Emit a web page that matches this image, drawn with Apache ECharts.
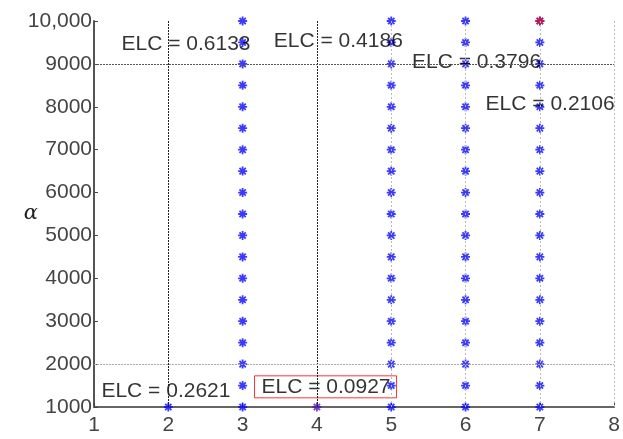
<!DOCTYPE html>
<html><head><meta charset="utf-8">
<script src="https://cdn.jsdelivr.net/npm/echarts@6/dist/echarts.min.js"></script>
<style>html,body{margin:0;padding:0;background:#fff}#c{width:623px;height:439px}</style>
</head><body><div id="c"></div>
<script>
// Data
var alphaValues = [1000,1500,2000,2500,3000,3500,4000,4500,5000,5500,6000,6500,7000,7500,8000,8500,9000,9500,10000];
var col2 = [1000];
var col4 = [1000];
var fullColumns = [3, 5, 6, 7];
var redPoint = [7, 10000];
var xTicks = [1,2,3,4,5,6,7,8];
var yTicks = [1000,2000,3000,4000,5000,6000,7000,8000,9000,10000];
var darkVLines = [2, 4];
var lightVLines = [5, 6, 7, 8];
var darkHLines = [9000];
var lightHLines = [2000];
var elcTexts = ['ELC = 0.6133','ELC = 0.4186','ELC = 0.3796','ELC = 0.2106','ELC = 0.2621','ELC = 0.0927'];
var elcX = [1.37, 3.42, 5.28, 6.27, 1.10, 3.16];
var elcY = [9470, 9520, 9050, 8060, 1370, 1470];
var boxedIndex = 5;

var blueData = [];
fullColumns.forEach(function(c){ alphaValues.forEach(function(a){ blueData.push([c, a]); }); });
col2.forEach(function(a){ blueData.push([2, a]); });

var star = 'path://M-1,-5L1,-5L1,5L-1,5Z M-5,-1L5,-1L5,1L-5,1Z M-4.2,-2.8L-2.8,-4.2L4.2,2.8L2.8,4.2Z M2.8,-4.2L4.2,-2.8L-2.8,4.2L-4.2,2.8Z';

var labelData = elcTexts.map(function(t, i){
  var d = {value: [elcX[i], elcY[i]], name: t};
  if (i === boxedIndex) {
    d.label = {borderColor: '#ff0000', borderWidth: 1, padding: [1, 6, 0, 7]};
  }
  return d;
});

var chart = echarts.init(document.getElementById('c'));
chart.setOption({
  animation: false,
  backgroundColor: '#fff',
  grid: {left: 94, right: 7, top: 21, bottom: 32, containLabel: false},
  xAxis: {
    type: 'value', min: 1, max: 8, interval: 1,
    axisLine: {show: true, onZero: false, lineStyle: {color: '#666', width: 2}},
    axisTick: {show: true, inside: true, length: 4, lineStyle: {color: '#444'}},
    axisLabel: {color: '#444', fontSize: 21, fontFamily: 'Liberation Sans, Arial', margin: 8},
    splitLine: {show: false}
  },
  yAxis: {
    type: 'value', min: 1000, max: 10000, interval: 1000,
    name: 'α', nameLocation: 'middle', nameRotate: 0, nameGap: 56, nameMoveOverlap: false,
    nameTextStyle: {fontFamily: 'DejaVu Serif, Liberation Serif, serif', fontStyle: 'italic', fontSize: 21, color: '#222', padding: [6, 0, 0, 0]},
    axisLine: {show: true, onZero: false, lineStyle: {color: '#555', width: 2}},
    axisTick: {show: true, inside: true, length: 4, lineStyle: {color: '#444'}},
    axisLabel: {color: '#444', fontSize: 21, fontFamily: 'Liberation Sans, Arial', margin: 2,
      formatter: function(v){ return v === 10000 ? '10,000' : String(v); }},
    splitLine: {show: false}
  },
  series: [
    {
      type: 'line', data: [], silent: true,
      markLine: {
        symbol: 'none', silent: true, label: {show: false},
        data: [].concat(
          darkVLines.map(function(v){ return {xAxis: v, lineStyle: {color: '#222', type: [2, 1], width: 1}}; }),
          lightVLines.map(function(v){ return {xAxis: v, lineStyle: {color: '#bbb', type: [2, 2], width: 1}}; }),
          darkHLines.map(function(v){ return {yAxis: v, lineStyle: {color: '#555', type: [2, 1], width: 1}}; }),
          lightHLines.map(function(v){ return {yAxis: v, lineStyle: {color: '#aaa', type: [2, 1], width: 1}}; })
        )
      }
    },
    {
      type: 'scatter', symbol: star, symbolSize: 9,
      itemStyle: {color: '#0a0aff'},
      data: blueData
    },
    {
      type: 'scatter', symbol: star, symbolSize: 9,
      itemStyle: {color: '#5014c0'},
      data: col4.map(function(a){ return [4, a]; })
    },
    {
      type: 'scatter', symbol: star, symbolSize: 9,
      itemStyle: {color: '#e0102a'},
      data: [redPoint]
    },
    {
      type: 'scatter', symbolSize: 0, silent: true,
      label: {show: true, position: 'right', distance: 0, color: '#000', fontSize: 21,
        fontFamily: 'Liberation Sans, Arial', formatter: function(p){ return p.name; }},
      data: labelData
    }
  ]
});
</script></body></html>
